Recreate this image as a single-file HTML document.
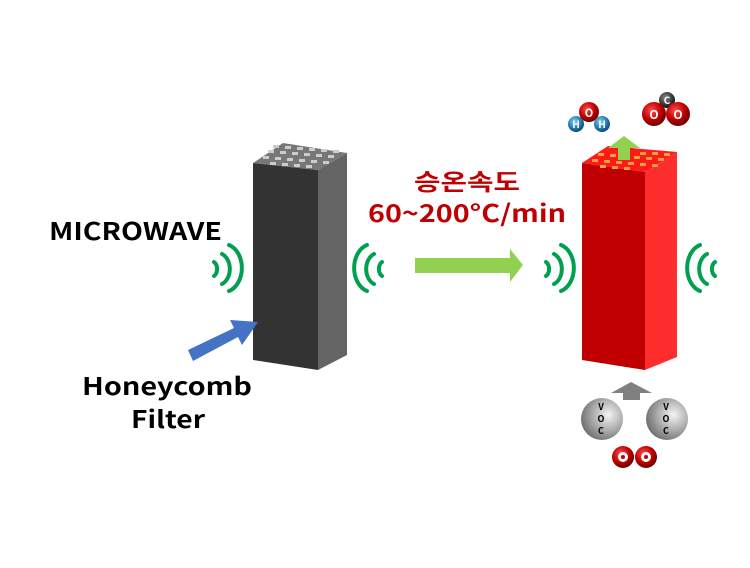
<!DOCTYPE html>
<html><head><meta charset="utf-8"><style>
body{margin:0;background:#fff;width:750px;height:563px;overflow:hidden}
text{font-family:"Noto Sans CJK KR","Liberation Sans",sans-serif;font-weight:bold}
</style></head><body>
<svg width="750" height="563" viewBox="0 0 750 563" xmlns="http://www.w3.org/2000/svg">
<defs>
<radialGradient id="rg" cx="0.4" cy="0.35" r="0.65"><stop offset="0" stop-color="#ff5050"/><stop offset="0.6" stop-color="#c00000"/><stop offset="1" stop-color="#700000"/></radialGradient>
<radialGradient id="bg" cx="0.4" cy="0.35" r="0.65"><stop offset="0" stop-color="#8ccff0"/><stop offset="0.6" stop-color="#2a7fb8"/><stop offset="1" stop-color="#0c4a78"/></radialGradient>
<radialGradient id="kg" cx="0.4" cy="0.35" r="0.65"><stop offset="0" stop-color="#888"/><stop offset="1" stop-color="#111"/></radialGradient>
<radialGradient id="gg" cx="0.65" cy="0.4" r="0.7"><stop offset="0" stop-color="#f4f4f4"/><stop offset="0.5" stop-color="#b0b0b0"/><stop offset="1" stop-color="#6a6a6a"/></radialGradient>
</defs>
<polygon points="253,163 318,170 318,370 253,360" fill="#333"/>
<polygon points="318,170 347,153 347,355 318,370" fill="#646464"/>
<polygon points="253,163 283,143 347,153 318,170" fill="#777"/>
<g fill="#ccc">
<rect x="268" y="150" width="6" height="3"/><rect x="280" y="151" width="6" height="3"/><rect x="292" y="152" width="6" height="3"/><rect x="304" y="153" width="6" height="3"/><rect x="316" y="154" width="6" height="3"/><rect x="328" y="155" width="6" height="3"/>
<rect x="263" y="156" width="6" height="3"/><rect x="275" y="157" width="6" height="3"/><rect x="287" y="158" width="6" height="3"/><rect x="299" y="159" width="6" height="3"/><rect x="311" y="160" width="6" height="3"/><rect x="323" y="161" width="6" height="3"/>
<rect x="273" y="145" width="6" height="3"/><rect x="285" y="146" width="6" height="3"/><rect x="297" y="147" width="6" height="3"/><rect x="309" y="148" width="6" height="3"/><rect x="321" y="149" width="6" height="3"/><rect x="333" y="150" width="6" height="3"/>
<rect x="270" y="162" width="6" height="3"/><rect x="282" y="163" width="6" height="3"/><rect x="294" y="164" width="6" height="3"/><rect x="306" y="165" width="6" height="3"/>
</g>
<polygon points="582,163 645,172 645,370 582,360" fill="#c00000"/>
<polygon points="645,172 677,152 677,357 645,370" fill="#ff2e2e"/>
<polygon points="582,163 608,146 677,152 645,172" fill="#ff1a1a"/>
<g fill="#f4a040">
<rect x="598" y="153" width="6" height="3"/><rect x="610" y="154" width="6" height="3"/><rect x="622" y="155" width="6" height="3"/><rect x="634" y="156" width="6" height="3"/><rect x="646" y="157" width="6" height="3"/><rect x="658" y="158" width="6" height="3"/>
<rect x="592" y="159" width="6" height="3"/><rect x="604" y="160" width="6" height="3"/><rect x="616" y="161" width="6" height="3"/><rect x="628" y="162" width="6" height="3"/><rect x="640" y="163" width="6" height="3"/><rect x="652" y="164" width="6" height="3"/>
<rect x="640" y="152" width="6" height="3"/><rect x="652" y="152" width="6" height="3"/><rect x="664" y="153" width="6" height="3"/>
<rect x="600" y="165" width="6" height="3"/><rect x="612" y="166" width="6" height="3"/><rect x="624" y="167" width="6" height="3"/>
</g>
<polygon points="618,160 618,148 608,148 624,136 640,148 630,148 630,160" fill="#92d050"/>
<g fill="none" stroke="#00a050" stroke-width="4" stroke-linecap="round">
<path d="M214,262 a6,8 0 0 1 0,14"/><path d="M222,254 a12,16 0 0 1 0,30"/><path d="M229,245 a18,24 0 0 1 0,46"/>
<path d="M382,262 a6,8 0 0 0 0,14"/><path d="M374,254 a12,16 0 0 0 0,30"/><path d="M367,245 a18,24 0 0 0 0,46"/>
<path d="M546,262 a6,8 0 0 1 0,14"/><path d="M554,254 a12,16 0 0 1 0,30"/><path d="M561,245 a18,24 0 0 1 0,46"/>
<path d="M715,262 a6,8 0 0 0 0,14"/><path d="M707,254 a12,16 0 0 0 0,30"/><path d="M700,245 a18,24 0 0 0 0,46"/>
</g>
<polygon points="415,258 510,258 510,249 523,265 510,282 510,273 415,273" fill="#92d050"/>
<polygon points="188,350 234,328 230,320 258,322 242,345 238,337 193,361" fill="#4472c4"/>
<text x="49" y="240" font-size="24" fill="#000" textLength="173" lengthAdjust="spacingAndGlyphs">MICROWAVE</text>
<text x="82" y="395" font-size="24" fill="#000" textLength="170" lengthAdjust="spacingAndGlyphs">Honeycomb</text>
<text x="131" y="428" font-size="24" fill="#000" textLength="74" lengthAdjust="spacingAndGlyphs">Filter</text>
<text x="414" y="190" font-size="23" fill="#c00000" textLength="106" lengthAdjust="spacingAndGlyphs">승온속도</text>
<text x="368" y="222" font-size="24" fill="#c00000" textLength="198" lengthAdjust="spacingAndGlyphs">60~200°C/min</text>
<circle cx="589" cy="112" r="10" fill="url(#rg)"/><text x="589" y="117" font-size="11" fill="#fff" text-anchor="middle">O</text>
<circle cx="576" cy="124" r="8" fill="url(#bg)"/><text x="576" y="128" font-size="10" fill="#fff" text-anchor="middle">H</text>
<circle cx="602" cy="124" r="8" fill="url(#bg)"/><text x="602" y="128" font-size="10" fill="#fff" text-anchor="middle">H</text>
<circle cx="667" cy="100" r="8" fill="url(#kg)"/><text x="667" y="104" font-size="10" fill="#fff" text-anchor="middle">C</text>
<circle cx="654" cy="114" r="12" fill="url(#rg)"/><text x="654" y="119" font-size="12" fill="#fff" text-anchor="middle">O</text>
<circle cx="678" cy="114" r="12" fill="url(#rg)"/><text x="678" y="119" font-size="12" fill="#fff" text-anchor="middle">O</text>
<polygon points="623,400 623,393 611,393 631,382 652,393 640,393 640,400" fill="#808080"/>
<circle cx="602" cy="419" r="21" fill="url(#gg)"/>
<text x="601" y="410" font-size="9" fill="#000" text-anchor="middle">V</text><text x="601" y="422" font-size="9" fill="#000" text-anchor="middle">O</text><text x="601" y="434" font-size="9" fill="#000" text-anchor="middle">C</text>
<circle cx="667" cy="419" r="21" fill="url(#gg)"/>
<text x="666" y="410" font-size="9" fill="#000" text-anchor="middle">V</text><text x="666" y="422" font-size="9" fill="#000" text-anchor="middle">O</text><text x="666" y="434" font-size="9" fill="#000" text-anchor="middle">C</text>
<circle cx="623" cy="457" r="11" fill="url(#rg)"/><circle cx="623" cy="457" r="5" fill="#fff"/><circle cx="623" cy="457" r="2" fill="#c00000"/>
<circle cx="646" cy="457" r="11" fill="url(#rg)"/><circle cx="646" cy="457" r="5" fill="#fff"/><circle cx="646" cy="457" r="2" fill="#c00000"/>
</svg>
</body></html>
